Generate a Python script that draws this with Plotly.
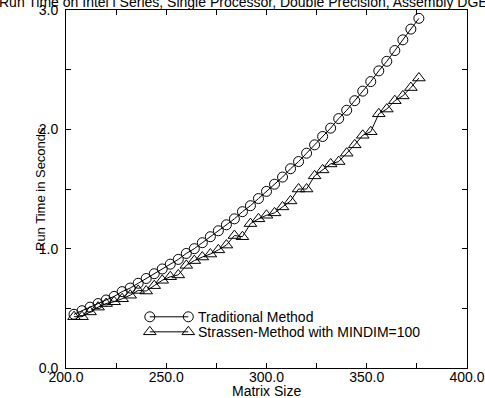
import plotly.graph_objects as go

# ---- data ----
matrix_size = [204, 208, 212, 216, 220, 224, 228, 232, 236, 240,
               244, 248, 252, 256, 260, 264, 268, 272, 276, 280,
               284, 288, 292, 296, 300, 304, 308, 312, 316, 320,
               324, 328, 332, 336, 340, 344, 348, 352, 356, 360,
               364, 368, 372, 376]

traditional = [0.45, 0.48, 0.51, 0.54, 0.57, 0.60, 0.64, 0.67, 0.71, 0.75,
               0.79, 0.83, 0.87, 0.91, 0.96, 1.00, 1.05, 1.10, 1.15, 1.20,
               1.25, 1.31, 1.36, 1.42, 1.48, 1.54, 1.60, 1.67, 1.73, 1.80,
               1.87, 1.94, 2.01, 2.09, 2.16, 2.24, 2.32, 2.40, 2.49, 2.57,
               2.66, 2.75, 2.84, 2.93]

strassen = [0.43, 0.43, 0.47, 0.51, 0.54, 0.555, 0.58, 0.61, 0.65, 0.645,
            0.69, 0.735, 0.765, 0.78, 0.86, 0.90, 0.93, 0.955, 0.99, 1.03,
            1.11, 1.10, 1.21, 1.25, 1.28, 1.30, 1.35, 1.40, 1.50, 1.50,
            1.61, 1.66, 1.71, 1.73, 1.80, 1.87, 1.95, 1.98, 2.13, 2.17,
            2.24, 2.28, 2.35, 2.43]

series_names = ["Traditional Method", "Strassen-Method with MINDIM=100"]
title_text = ("Run Time on Intel i Series, Single Processor, "
              "Double Precision, Assembly DGEMM")
x_title = "Matrix Size"
y_title = "Run Time in Seconds"

FONT = "Liberation Sans, Arial, Helvetica, sans-serif"
FS = 14

fig = go.Figure()

fig.add_trace(go.Scatter(
    x=matrix_size, y=traditional, mode="lines+markers",
    line=dict(color="black", width=1),
    marker=dict(symbol="circle-open", size=10, color="black", line=dict(width=1)),
    showlegend=False))

fig.add_trace(go.Scatter(
    x=matrix_size, y=strassen, mode="lines+markers",
    line=dict(color="black", width=1),
    marker=dict(symbol="triangle-up-open", size=11, color="black", line=dict(width=1)),
    showlegend=False))

# ---- custom legend keys (marker at both ends of a line), on hidden overlay axes ----
leg_x0, leg_x1 = 0.209, 0.305
leg_rows = [0.143, 0.101]
leg_symbols = ["circle-open", "triangle-up-open"]
leg_sizes = [10, 11]
for row_y, sym, sz, name in zip(leg_rows, leg_symbols, leg_sizes, series_names):
    fig.add_trace(go.Scatter(
        x=[leg_x0, leg_x1], y=[row_y, row_y], xaxis="x2", yaxis="y2",
        mode="lines+markers", line=dict(color="black", width=1),
        marker=dict(symbol=sym, size=sz, color="black", line=dict(width=1)),
        showlegend=False, hoverinfo="skip"))
    fig.add_annotation(x=0.325, y=row_y, xref="x2", yref="y2", text=name,
                       showarrow=False, xanchor="left", yanchor="middle",
                       font=dict(family=FONT, size=FS, color="black"))

axis_common = dict(
    showline=True, linecolor="black", linewidth=1, mirror="ticks",
    ticks="inside", ticklen=5, tickwidth=1, tickcolor="black",
    showgrid=False, zeroline=False, tickformat=".1f", automargin=False,
    tickfont=dict(family=FONT, size=FS, color="black"),
)

fig.update_layout(
    template="none",
    width=485, height=398,
    margin=dict(l=66, r=18, t=10, b=30),
    paper_bgcolor="white", plot_bgcolor="white",
    font=dict(family=FONT, size=FS, color="black"),
    xaxis=dict(range=[200, 400], dtick=50, tick0=200, ticklabelstandoff=-4,
               minor=dict(dtick=25, ticks="inside", ticklen=5, tickcolor="black", showgrid=False),
               **axis_common),
    yaxis=dict(range=[0, 3], dtick=1, tick0=0, ticklabelstandoff=4,
               minor=dict(dtick=0.5, ticks="inside", ticklen=5, tickcolor="black", showgrid=False),
               **axis_common),
    xaxis2=dict(overlaying="x", range=[0, 1], visible=False, domain=[0, 1], automargin=False),
    yaxis2=dict(overlaying="y", range=[0, 1], visible=False, domain=[0, 1], automargin=False),
)

fig.add_annotation(x=0.5, y=0, xref="paper", yref="paper", text=x_title,
                   showarrow=False, yanchor="top", yshift=-13,
                   font=dict(family=FONT, size=FS, color="black"))

fig.add_annotation(x=0, y=0.5, xref="paper", yref="paper", text=y_title, textangle=-90,
                   showarrow=False, xanchor="center", yanchor="middle", xshift=-26,
                   font=dict(family=FONT, size=13, color="black"))

fig.add_annotation(x=0.5, y=1, xref="paper", yref="paper", text=title_text,
                   showarrow=False, xanchor="center", yanchor="bottom", yshift=-2,
                   xshift=-12,
                   font=dict(family=FONT, size=14, color="black"))

fig.write_html("out.html", config={"displayModeBar": False},
               post_script="document.body.style.margin='0';")
